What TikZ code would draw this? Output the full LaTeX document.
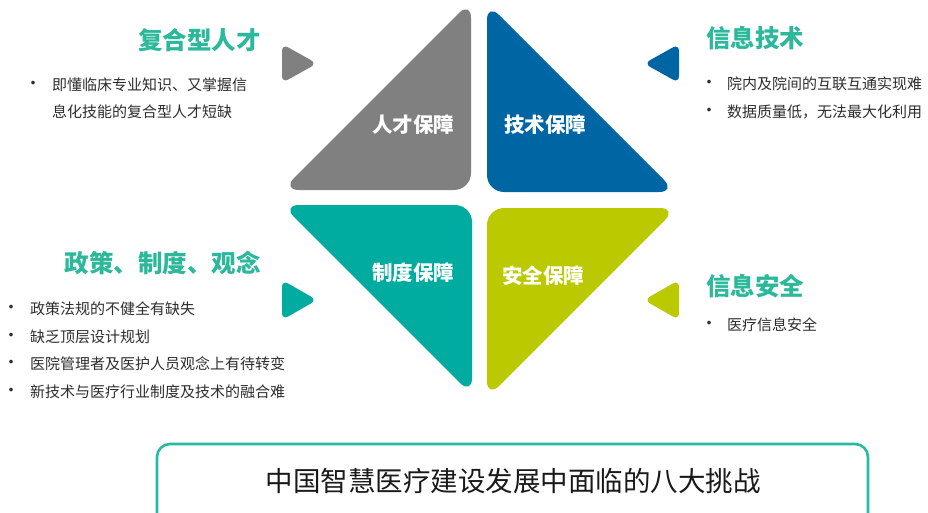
\documentclass[tikz,border=0pt]{standalone}
\usepackage{fontspec}
\setmainfont{Noto Sans CJK SC}
\definecolor{cgray}{RGB}{128,128,128}
\definecolor{cblue}{RGB}{0,101,163}
\definecolor{cteal}{RGB}{0,172,160}
\definecolor{clime}{RGB}{187,202,0}
\definecolor{ctitle}{RGB}{44,184,154}
\definecolor{cbox}{RGB}{36,187,166}
\definecolor{ctext}{RGB}{45,45,45}
\begin{document}
\begin{tikzpicture}[x=1pt,y=-1pt,
  lbl/.style={text=white,font=\fontsize{20.5}{24}\selectfont\bfseries,inner sep=0pt},
  ttl/.style={text=ctitle,font=\fontsize{24.5}{28}\selectfont\bfseries,inner sep=0pt},
  bul/.style={text=ctext,font=\fontsize{15}{18}\selectfont,inner sep=0pt,anchor=west},
  dot/.style={text=ctext,font=\fontsize{17}{20}\selectfont,inner sep=0pt},
  quad/.style={rounded corners=17},
  mini/.style={rounded corners=7}]
\useasboundingbox (0,0) rectangle (928,513);
% four quadrants
\fill[cgray,quad] (471,1) -- (471,190) -- (282,190) -- cycle;
\fill[cblue,quad] (487,3) -- (487,192) -- (676,192) -- cycle;
\fill[cteal,quad] (282,205) -- (472,205) -- (472,395) -- cycle;
\fill[clime,quad] (487,208) -- (677,208) -- (487,398) -- cycle;
\node[lbl] (l1) at (413,125) {人才保障};
\node[lbl] (l2) at (545,125) {技术保障};
\node[lbl] (l3) at (413,273) {制度保障};
\node[lbl] (l4) at (543,276) {安全保障};
% small pointers
\fill[cgray,mini] (282,44) -- (317,63.5) -- (282,83) -- cycle;
\fill[cblue,mini] (679,44) -- (644,63.5) -- (679,83) -- cycle;
\fill[cteal,mini] (282,280) -- (317,300) -- (282,320) -- cycle;
\fill[clime,mini] (679,280) -- (644,300) -- (679,320) -- cycle;
% titles
\node[ttl,anchor=east] (t1) at (261,40) {复合型人才};
\node[ttl,anchor=west] (t2) at (706,38) {信息技术};
\node[ttl,anchor=east] (t3) at (261,263) {政策、制度、观念};
\node[ttl,anchor=west] (t4) at (706,286) {信息安全};
% bullets top-left
\node[dot] (d11) at (33,85) {•};
\node[bul] (b11) at (52,85) {即懂临床专业知识、又掌握信};
\node[bul] (b12) at (52,112) {息化技能的复合型人才短缺};
% bullets top-right
\node[dot] (d21) at (709,84) {•};
\node[bul] (b21) at (727,84) {院内及院间的互联互通实现难};
\node[dot] (d22) at (709,112) {•};
\node[bul] (b22) at (727,112) {数据质量低，无法最大化利用};
% bullets bottom-left
\node[dot] (d31) at (11,309) {•};
\node[bul] (b31) at (30,309) {政策法规的不健全有缺失};
\node[dot] (d32) at (11,337) {•};
\node[bul] (b32) at (30,337) {缺乏顶层设计规划};
\node[dot] (d33) at (11,364) {•};
\node[bul] (b33) at (30,364) {医院管理者及医护人员观念上有待转变};
\node[dot] (d34) at (11,392) {•};
\node[bul] (b34) at (30,392) {新技术与医疗行业制度及技术的融合难};
% bullets bottom-right
\node[dot] (d41) at (709,325) {•};
\node[bul] (b41) at (727,325) {医疗信息安全};
% bottom box
\draw[cbox,line width=2.6pt,rounded corners=13] (157,444) rectangle (868,530);
\node[text=black!90,font=\fontsize{27.5}{32}\selectfont,inner sep=0pt] (main) at (513,481) {中国智慧医疗建设发展中面临的八大挑战};
\end{tikzpicture}
\end{document}
